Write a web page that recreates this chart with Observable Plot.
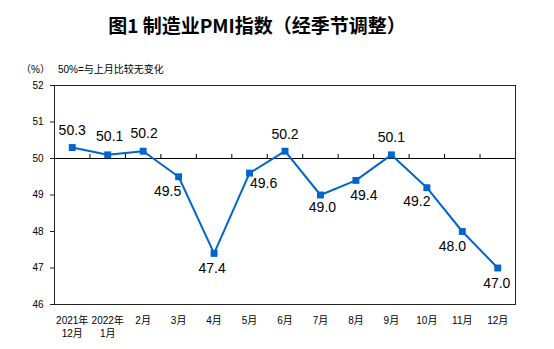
<!DOCTYPE html>
<html><head><meta charset="utf-8">
<script src="https://cdn.jsdelivr.net/npm/d3@7"></script>
<script src="https://cdn.jsdelivr.net/npm/@observablehq/plot@0.6"></script>
<style>
body{margin:0;background:#fff;}
#wrap{position:relative;width:554px;height:349px;overflow:hidden;}
#title{position:absolute;left:0;top:15px;width:514px;text-align:center;font-family:"Noto Sans CJK SC",sans-serif;font-weight:bold;font-size:19px;line-height:19px;color:#000;white-space:nowrap;}
.note{position:absolute;top:64px;font-family:"Liberation Sans","Noto Sans CJK SC",sans-serif;font-size:10px;line-height:12px;color:#000;white-space:nowrap;}
#chart{position:absolute;left:0;top:0;}
</style></head><body>
<div id="wrap">
<div id="chart"></div>
<div id="title">图1 制造业PMI指数（经季节调整）</div>
<div class="note" style="left:21px">（%）</div>
<div class="note" style="left:58px">50%=与上月比较无变化</div>
</div>
<script>
// ---- data ----
const months = ["2021年\n12月","2022年\n1月","2月","3月","4月","5月","6月","7月","8月","9月","10月","11月","12月"];
const pmi = [50.3, 50.1, 50.2, 49.5, 47.4, 49.6, 50.2, 49.0, 49.4, 50.1, 49.2, 48.0, 47.0];
const yTicks = [46, 47, 48, 49, 50, 51, 52];
const baseline = 50;

// ---- layout (label placement, px) ----
const labelOffsets = [[0,-17],[2,-18],[1,-18],[-11,15],[-2,15],[14,10],[0,-17],[2,13],[8,15],[0,-17],[-10,14],[-10,15],[-1,16]];

const idx = months.map((_, i) => i);
const rows = idx.map(i => ({i, value: pmi[i]}));
const boundaries = idx.slice(1).map(i => i - 0.5);
const blue = "#0066CC";

const labelMarks = rows.map((r, k) => Plot.text([r], {
  x: "i", y: "value", text: d => d.value.toFixed(1),
  dx: labelOffsets[k][0], dy: labelOffsets[k][1],
  fontSize: 14, fill: "#000", fontFamily: "Liberation Sans, Arial, sans-serif"
}));

const chart = Plot.plot({
  width: 554,
  height: 349,
  marginLeft: 54,
  marginRight: 39,
  marginTop: 85,
  marginBottom: 45,
  style: {fontFamily: "Liberation Sans, 'Noto Sans CJK SC', sans-serif", fontSize: "10px", color: "#000", background: "#fff"},
  x: {type: "linear", domain: [-0.5, months.length - 0.5]},
  y: {domain: [46, 52]},
  marks: [
    Plot.ruleY([baseline], {stroke: "#000", strokeWidth: 1}),
    Plot.ruleX(boundaries, {x: d => d, y1: baseline, y2: baseline + 0.11, stroke: "#000", strokeWidth: 1}),
    Plot.frame({stroke: "#222", strokeWidth: 1}),
    Plot.axisY({ticks: yTicks, tickSize: 4, tickPadding: 7, tickFormat: d => String(d), label: null, stroke: "#222", fontSize: 10}),
    Plot.axisX({ticks: idx, tickSize: 0, tickPadding: 10, tickFormat: i => months[i], label: null, lineHeight: 1.3, fontSize: 10}),
    Plot.line(rows, {x: "i", y: "value", stroke: blue, strokeWidth: 2}),
    Plot.dot(rows, {x: "i", y: "value", symbol: "square", r: 3.9, fill: blue, stroke: "none"}),
    ...labelMarks
  ]
});
document.getElementById("chart").appendChild(chart);
</script>
</body></html>
